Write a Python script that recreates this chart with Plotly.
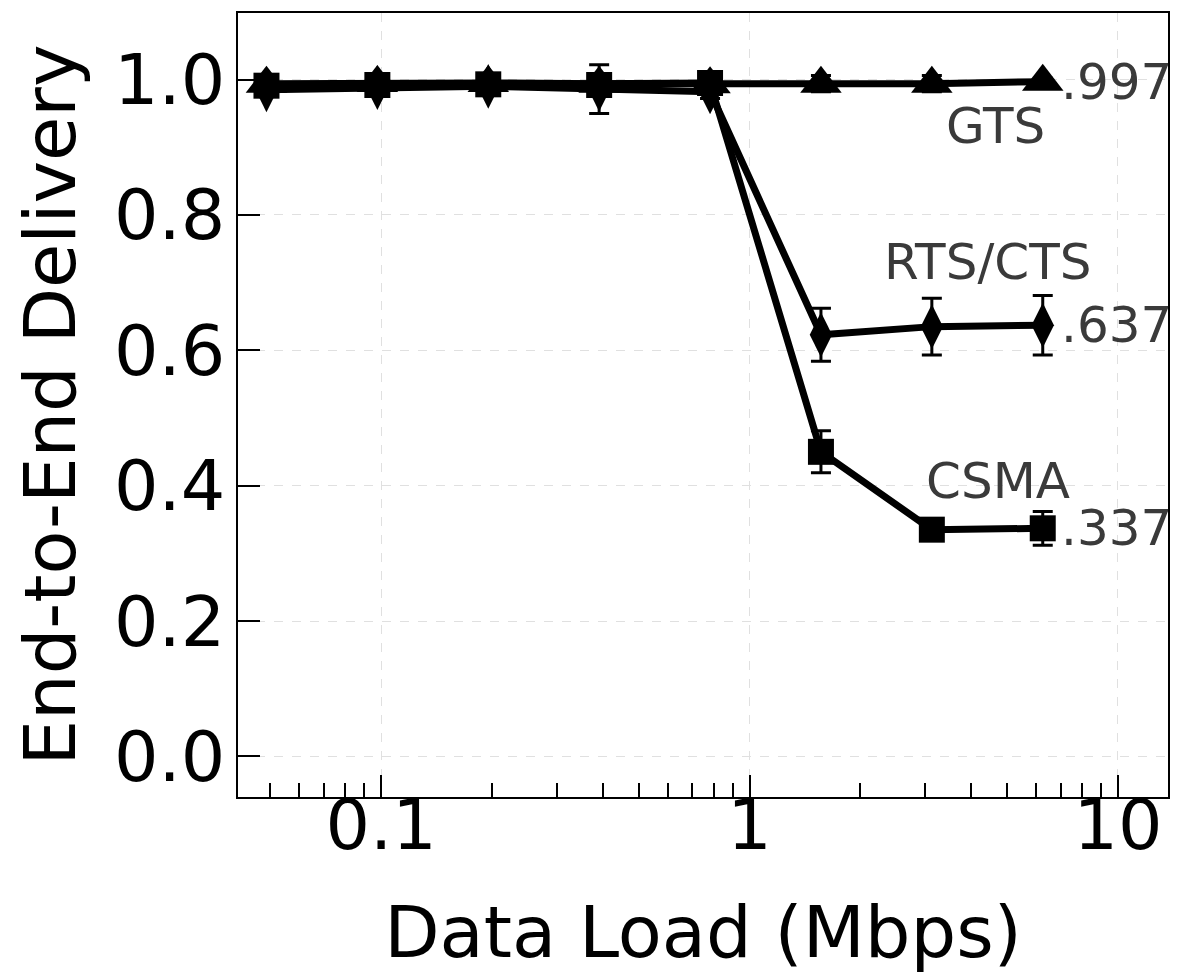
import numpy as np
import plotly.graph_objects as go

# Data
load_mbps = [0.048828125, 0.09765625, 0.1953125, 0.390625, 0.78125, 1.5625, 3.125, 6.25]

gts = [0.994, 0.995, 0.995, 0.994, 0.993, 0.994, 0.994, 0.997]
gts_err = [0.006, 0.012, 0.010, 0.008, 0.006, 0.012, 0.012, 0.005]

rts = [0.985, 0.988, 0.990, 0.986, 0.982, 0.623, 0.635, 0.637]
rts_err = [0.008, 0.008, 0.008, 0.036, 0.010, 0.039, 0.042, 0.044]

csma = [0.991, 0.992, 0.993, 0.992, 0.995, 0.450, 0.335, 0.337]
csma_err = [0.006, 0.006, 0.006, 0.006, 0.006, 0.031, 0.008, 0.025]

series = [
    ("CSMA", csma, csma_err, "square", 26),
    ("RTS/CTS", rts, rts_err, "diamond-tall", 32),
    ("GTS", gts, gts_err, "triangle-up", 36),
]

FONT = "DejaVu Sans"
fig = go.Figure()
for name, ys, errs, sym, sz in series:
    fig.add_trace(go.Scatter(
        x=load_mbps, y=ys, name=name, mode="lines+markers",
        line=dict(color="black", width=7),
        marker=dict(symbol=sym, size=sz, color="black", line=dict(width=0)),
        error_y=dict(type="data", array=errs, visible=True, color="black",
                     thickness=3, width=10),
        showlegend=False,
    ))

label_color = "#3a3a3a"
ann = []
for ys in (gts, rts, csma):
    ann.append(dict(x=np.log10(load_mbps[-1]), y=ys[-1], xref="x", yref="y",
                    text=("%.3f" % ys[-1])[1:], showarrow=False,
                    xanchor="left", yanchor="middle", xshift=16, yshift=0,
                    font=dict(family=FONT, size=50, color=label_color)))
ann.append(dict(x=np.log10(load_mbps[-1]), y=gts[-1], xref="x", yref="y", text="GTS",
                showarrow=False, xanchor="center", yanchor="middle", xshift=-47, yshift=-44,
                font=dict(family=FONT, size=50, color=label_color)))
ann.append(dict(x=np.log10(load_mbps[-1]), y=rts[-1], xref="x", yref="y", text="RTS/CTS",
                showarrow=False, xanchor="center", yanchor="middle", xshift=-55, yshift=63,
                font=dict(family=FONT, size=50, color=label_color)))
ann.append(dict(x=np.log10(load_mbps[-1]), y=csma[-1], xref="x", yref="y", text="CSMA",
                showarrow=False, xanchor="center", yanchor="middle", xshift=-45, yshift=47,
                font=dict(family=FONT, size=50, color=label_color)))

fig.update_layout(
    width=1197, height=974,
    margin=dict(l=238, r=29, t=13, b=177),
    paper_bgcolor="white", plot_bgcolor="white",
    font=dict(family=FONT, color="black"),
    annotations=ann,
)
fig.update_xaxes(
    type="log", range=[-1.3886, 1.1359], automargin=False,
    tickvals=[0.1, 1, 10], ticktext=["0.1", "1", "10"],
    ticks="inside", ticklen=22, tickwidth=2, tickcolor="black",
    ticklabelstandoff=-34,
    minor=dict(ticks="inside", ticklen=14, tickwidth=2, tickcolor="black", showgrid=False,
               tickvals=[0.05, 0.06, 0.07, 0.08, 0.09, 0.2, 0.3, 0.4, 0.5, 0.6, 0.7, 0.8, 0.9,
                         2, 3, 4, 5, 6, 7, 8, 9]),
    showgrid=True, gridcolor="#e0e0e0", griddash="dash", gridwidth=1,
    showline=True, linecolor="black", linewidth=1.5, mirror=True,
    tickfont=dict(family=FONT, size=70),
    title=dict(text="Data Load (Mbps)", font=dict(family=FONT, size=72), standoff=46),
    zeroline=False,
)
fig.update_yaxes(
    range=[-0.06, 1.0984], automargin=False,
    tickvals=[0.0, 0.2, 0.4, 0.6, 0.8, 1.0], ticktext=["0.0", "0.2", "0.4", "0.6", "0.8", "1.0"],
    ticks="inside", ticklen=22, tickwidth=2, tickcolor="black",
    ticklabelstandoff=-3,
    showgrid=True, gridcolor="#e0e0e0", griddash="dash", gridwidth=1,
    showline=True, linecolor="black", linewidth=1.5, mirror=True,
    tickfont=dict(family=FONT, size=70),
    title=dict(text="End-to-End Delivery", font=dict(family=FONT, size=72), standoff=15),
    zeroline=False,
)

fig.write_html("out.html")
